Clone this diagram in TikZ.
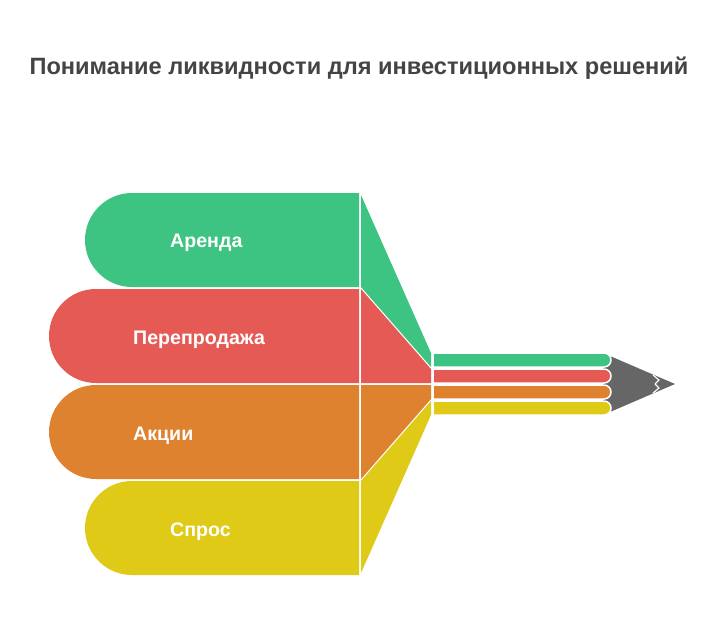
\documentclass[tikz,border=0pt]{standalone}
\usepackage{fontspec}
\setmainfont{Liberation Sans}
\usetikzlibrary{calc}

\definecolor{rentgreen}{HTML}{3EC482}
\definecolor{resalered}{HTML}{E55A55}
\definecolor{stockorange}{HTML}{DF8230}
\definecolor{demandyellow}{HTML}{DFCA17}
\definecolor{tipgray}{HTML}{666666}
\definecolor{titlegray}{HTML}{444444}

\begin{document}
\begin{tikzpicture}[x=1pt,y=-1pt]
    \tikzstyle{title}=[
      text=titlegray,
      font=\bfseries\fontsize{23.6}{28}\selectfont,
      anchor=base,
      inner sep=0pt,
    ]
    \tikzstyle{bandtext}=[
      text=white,
      font=\bfseries\fontsize{19.6}{23}\selectfont,
      anchor=base west,
      inner sep=0pt,
    ]
    \tikzstyle{lead}=[
      draw=white,
      line width=1.5pt,
    ]
    \tikzstyle{crack}=[
      draw=white,
      line width=1.2pt,
      line join=round,
    ]

    \useasboundingbox (0,0) rectangle (720,624);

    \coordinate (tipAnchor) at (611,384);

    % title
    {
      \node[title] (heading) at (359,74) {Понимание ликвидности для инвестиционных решений};
    }

    % left bands
    {
      \fill[rentgreen] (359,193) -- (132,193) arc[start angle=270, end angle=90, radius=47] -- (359,287) -- cycle;
      \fill[resalered] (359,289) -- (96,289) arc[start angle=270, end angle=90, radius=47] -- (359,383) -- cycle;
      \fill[stockorange] (359,385) -- (96,385) arc[start angle=270, end angle=90, radius=47] -- (359,479) -- cycle;
      \fill[demandyellow] (359,481) -- (132,481) arc[start angle=270, end angle=90, radius=47] -- (359,575) -- cycle;

      \node[bandtext] (rent) at (170,247) {Аренда};
      \node[bandtext] (resale) at (133,344) {Перепродажа};
      \node[bandtext] (stocks) at (133,440) {Акции};
      \node[bandtext] (demand) at (170,536) {Спрос};
    }

    % funnels
    {
      \fill[rentgreen] (361,195) -- (431,353) -- (431,367) -- (361,287) -- cycle;
      \fill[resalered] (361,289) -- (431,369) -- (431,383) -- (361,383) -- cycle;
      \fill[stockorange] (361,385) -- (431,385) -- (431,399) -- (361,479) -- cycle;
      \fill[demandyellow] (361,481) -- (431,401) -- (431,415) -- (361,573) -- cycle;
    }

    % pencil tip
    {
      \fill[tipgray] ([xshift=-8pt, yshift=-31pt] tipAnchor) -- ([xshift=64pt] tipAnchor) -- ([xshift=-8pt, yshift=31pt] tipAnchor) -- cycle;
      \draw[crack] ([xshift=42pt, yshift=-9pt] tipAnchor) -- ([xshift=48pt, yshift=-4pt] tipAnchor)
        -- ([xshift=44pt, yshift=0pt] tipAnchor) -- ([xshift=48pt, yshift=4pt] tipAnchor)
        -- ([xshift=42pt, yshift=9pt] tipAnchor);
    }

    % pencil leads
    {
      \filldraw[lead, fill=rentgreen] (433,353) -- (604,353) arc[start angle=270, end angle=450, radius=7] -- (433,367) -- cycle;
      \filldraw[lead, fill=resalered] (433,369) -- (604,369) arc[start angle=270, end angle=450, radius=7] -- (433,383) -- cycle;
      \filldraw[lead, fill=stockorange] (433,385) -- (604,385) arc[start angle=270, end angle=450, radius=7] -- (433,399) -- cycle;
      \filldraw[lead, fill=demandyellow] (433,401) -- (604,401) arc[start angle=270, end angle=450, radius=7] -- (433,415) -- cycle;
    }
\end{tikzpicture}
\end{document}
